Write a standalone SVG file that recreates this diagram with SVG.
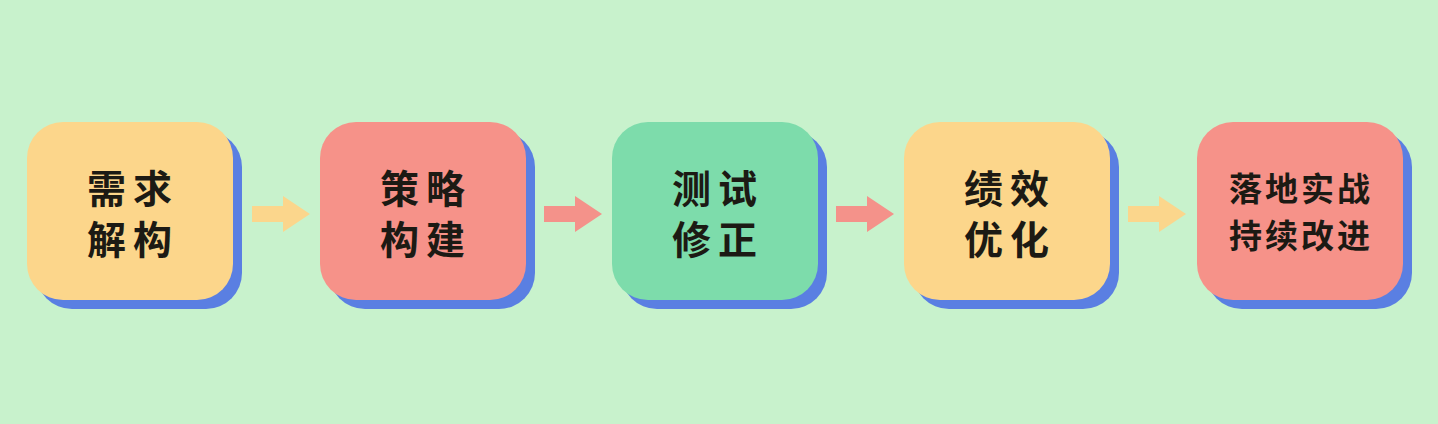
<svg xmlns="http://www.w3.org/2000/svg" width="1438" height="424" viewBox="0 0 1438 424">
<style>
.shadow{fill:#5a7fe2}
.y{fill:#fcd68b}
.r{fill:#f69289}
.g{fill:#7ddcab}
.t{font-family:"Noto Sans CJK SC","Noto Sans",sans-serif;font-weight:700;fill:#1c1a14;text-anchor:middle;dominant-baseline:central}
.big{font-size:39px;letter-spacing:7px}
.small{font-size:33px;letter-spacing:3px}
</style>
<rect width="1438" height="424" fill="#c8f2cc"/>
<g id="connectors">
<path d="M252,206 H283 V196 L310,214 L283,232 V222 H252 Z" fill="#fbd68c"/>
<path d="M544,206 H575 V196 L602,214 L575,232 V222 H544 Z" fill="#f4928a"/>
<path d="M836,206 H867 V196 L894,214 L867,232 V222 H836 Z" fill="#f4928a"/>
<path d="M1128,206 H1159 V196 L1186,214 L1159,232 V222 H1128 Z" fill="#fbd68c"/>
</g>
<g id="node1">
<rect class="shadow" x="36" y="131" width="206" height="178" rx="36"/>
<rect class="y" x="27" y="122" width="206" height="178" rx="36"/>
<text class="t big" x="133" y="186">需求</text>
<text class="t big" x="133" y="237">解构</text>
</g>
<g id="node2">
<rect class="shadow" x="329" y="131" width="206" height="178" rx="36"/>
<rect class="r" x="320" y="122" width="206" height="178" rx="36"/>
<text class="t big" x="426" y="186">策略</text>
<text class="t big" x="426" y="237">构建</text>
</g>
<g id="node3">
<rect class="shadow" x="621" y="131" width="206" height="178" rx="36"/>
<rect class="g" x="612" y="122" width="206" height="178" rx="36"/>
<text class="t big" x="718" y="186">测试</text>
<text class="t big" x="718" y="237">修正</text>
</g>
<g id="node4">
<rect class="shadow" x="913" y="131" width="206" height="178" rx="36"/>
<rect class="y" x="904" y="122" width="206" height="178" rx="36"/>
<text class="t big" x="1010" y="186">绩效</text>
<text class="t big" x="1010" y="237">优化</text>
</g>
<g id="node5">
<rect class="shadow" x="1206" y="131" width="206" height="178" rx="36"/>
<rect class="r" x="1197" y="122" width="206" height="178" rx="36"/>
<text class="t small" x="1301" y="187">落地实战</text>
<text class="t small" x="1301" y="234">持续改进</text>
</g>
</svg>
